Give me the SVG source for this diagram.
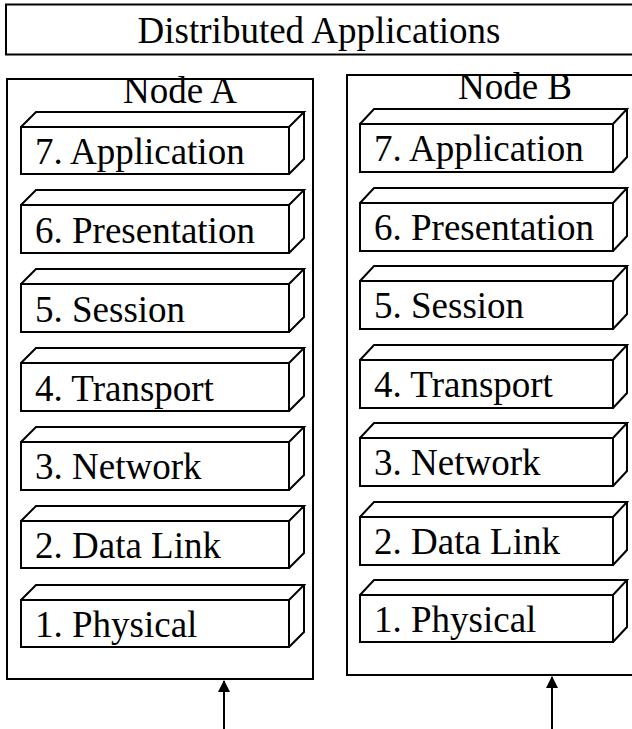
<svg xmlns="http://www.w3.org/2000/svg" width="632" height="729" viewBox="0 0 632 729">
<style>
.frame{fill:#fff;stroke:#000;stroke-width:2}
.box{fill:#fff;stroke:#000;stroke-width:2;stroke-linejoin:miter}
.t{font-family:"Liberation Serif","Times New Roman",serif;font-size:37px;fill:#000}
.c{text-anchor:middle}
.conn{stroke:#000;stroke-width:2;fill:none}
</style>
<defs>
<marker id="ah" viewBox="0 0 12 12" refX="11" refY="6" markerWidth="12" markerHeight="12" markerUnits="userSpaceOnUse" orient="auto">
<path d="M0,0 L12,6 L0,12 z" fill="#000"/>
</marker>
</defs>
<g id="distributed-applications">
<rect class="frame" x="6" y="4.5" width="640" height="50"/>
<text class="t c" x="319" y="43">Distributed Applications</text>
</g>
<g id="node-a">
<rect class="frame" x="7" y="79" width="306" height="600"/>
<text class="t c" x="180" y="103">Node A</text>
</g>
<g id="node-b">
<rect class="frame" x="347" y="75" width="300" height="600"/>
<text class="t c" x="515" y="99">Node B</text>
</g>
<g id="a-layers">
<g id="a7"><path class="box" d="M21,127 h268 v47 h-268 z M21,127 l15,-15 h268 l-15,15 M289,174 l15,-15 v-47"/><text class="t" x="35" y="164">7. Application</text></g>
<g id="a6"><path class="box" d="M21,205 h268 v48 h-268 z M21,205 l15,-15 h268 l-15,15 M289,253 l15,-15 v-48"/><text class="t" x="35" y="243">6. Presentation</text></g>
<g id="a5"><path class="box" d="M21,284 h268 v48 h-268 z M21,284 l15,-15 h268 l-15,15 M289,332 l15,-15 v-48"/><text class="t" x="35" y="322">5. Session</text></g>
<g id="a4"><path class="box" d="M21,363 h268 v48 h-268 z M21,363 l15,-15 h268 l-15,15 M289,411 l15,-15 v-48"/><text class="t" x="35" y="401">4. Transport</text></g>
<g id="a3"><path class="box" d="M21,442 h268 v48 h-268 z M21,442 l15,-15 h268 l-15,15 M289,490 l15,-15 v-48"/><text class="t" x="35" y="479">3. Network</text></g>
<g id="a2"><path class="box" d="M21,521 h268 v47 h-268 z M21,521 l15,-15 h268 l-15,15 M289,568 l15,-15 v-47"/><text class="t" x="35" y="558">2. Data Link</text></g>
<g id="a1"><path class="box" d="M21,600 h268 v47 h-268 z M21,600 l15,-15 h268 l-15,15 M289,647 l15,-15 v-47"/><text class="t" x="35" y="637">1. Physical</text></g>
</g>
<g id="b-layers">
<g id="b7"><path class="box" d="M360,124 h253 v48 h-253 z M360,124 l14,-15 h253 l-14,15 M613,172 l14,-15 v-48"/><text class="t" x="374" y="161">7. Application</text></g>
<g id="b6"><path class="box" d="M360,203 h253 v48 h-253 z M360,203 l14,-15 h253 l-14,15 M613,251 l14,-15 v-48"/><text class="t" x="374" y="240">6. Presentation</text></g>
<g id="b5"><path class="box" d="M360,281 h253 v48 h-253 z M360,281 l14,-15 h253 l-14,15 M613,329 l14,-15 v-48"/><text class="t" x="374" y="318">5. Session</text></g>
<g id="b4"><path class="box" d="M360,360 h253 v48 h-253 z M360,360 l14,-15 h253 l-14,15 M613,408 l14,-15 v-48"/><text class="t" x="374" y="397">4. Transport</text></g>
<g id="b3"><path class="box" d="M360,438 h253 v48 h-253 z M360,438 l14,-15 h253 l-14,15 M613,486 l14,-15 v-48"/><text class="t" x="374" y="475">3. Network</text></g>
<g id="b2"><path class="box" d="M360,517 h253 v48 h-253 z M360,517 l14,-15 h253 l-14,15 M613,565 l14,-15 v-48"/><text class="t" x="374" y="554">2. Data Link</text></g>
<g id="b1"><path class="box" d="M360,595 h253 v47 h-253 z M360,595 l14,-15 h253 l-14,15 M613,642 l14,-15 v-47"/><text class="t" x="374" y="632">1. Physical</text></g>
</g>
<g id="connectors">
<line class="conn" x1="224" y1="729" x2="224" y2="681" marker-end="url(#ah)"/>
<line class="conn" x1="552" y1="729" x2="552" y2="677" marker-end="url(#ah)"/>
</g>
</svg>
